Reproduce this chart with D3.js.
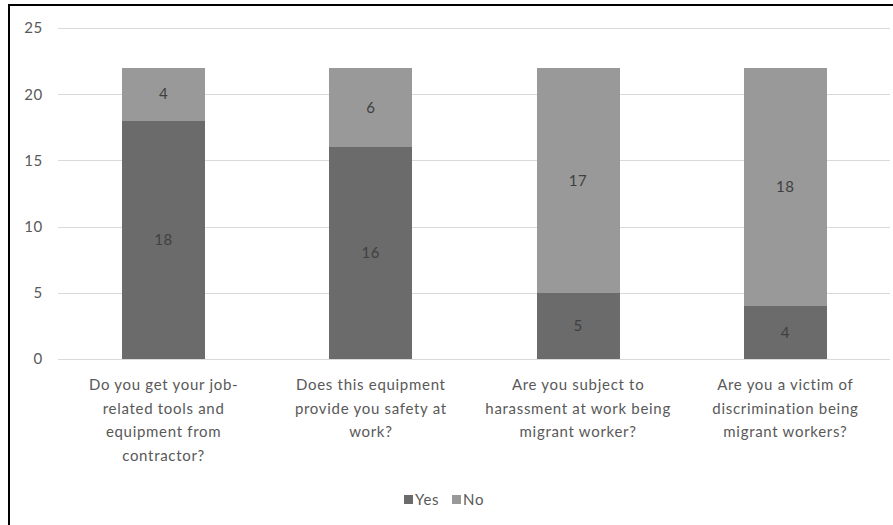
<!DOCTYPE html>
<html>
<head>
<meta charset="utf-8">
<script src="https://cdn.jsdelivr.net/npm/d3@7"></script>
<style>
  html, body { margin: 0; padding: 0; background: #fff; }
  svg { display: block; }
  text { font-family: Lato, "Open Sans", sans-serif; letter-spacing: 0.7px; }
</style>
</head>
<body>
<svg id="chart" width="893" height="525"></svg>
<script>
// Survey questions (wrapped into display lines)
const categories = [
  ["Do you get your job-", "related tools and", "equipment from", "contractor?"],
  ["Does this equipment", "provide you safety at", "work?"],
  ["Are you subject to", "harassment at work being", "migrant worker?"],
  ["Are you a victim of", "discrimination being", "migrant workers?"]
];
const yesValues = [18, 16, 5, 4];
const noValues = [4, 6, 17, 18];
const seriesNames = ["Yes", "No"];
const seriesColors = ["#6b6b6b", "#999999"];
const yTicks = [0, 5, 10, 15, 20, 25];

const svg = d3.select("#chart");
const W = 893, H = 525;

// outer frame (left and top edges visible)
svg.append("line").attr("x1", 9).attr("x2", 9).attr("y1", 4).attr("y2", H)
  .attr("stroke", "#000").attr("stroke-width", 2);
svg.append("line").attr("x1", 8).attr("x2", W).attr("y1", 5).attr("y2", 5)
  .attr("stroke", "#000").attr("stroke-width", 2);

const plot = { left: 60, right: 889, top: 28, bottom: 359 };

const x = d3.scaleBand()
  .domain(d3.range(categories.length))
  .range([plot.left, plot.right])
  .paddingInner(0.6)
  .paddingOuter(0.3);

const y = d3.scaleLinear().domain([0, 25]).range([plot.bottom, plot.top]);
const yr = v => Math.round(y(v));

// gridlines
svg.append("g")
  .selectAll("line")
  .data(yTicks)
  .join("line")
  .attr("x1", 58).attr("x2", 890)
  .attr("y1", d => yr(d) + 0.5).attr("y2", d => yr(d) + 0.5)
  .attr("stroke", "#d9d9d9").attr("stroke-width", 1);

// y axis labels
const yAxis = d3.axisLeft(y).tickValues(yTicks).tickSize(0).tickPadding(0);
const yg = svg.append("g").attr("transform", "translate(43,0)").call(yAxis);
yg.select(".domain").remove();
yg.selectAll("text").attr("fill", "#595959").style("font-size", "15px")
  .style("font-family", "Lato, sans-serif").style("letter-spacing", "0.7px");

// stacked data
const rows = categories.map((c, i) => ({ i, Yes: yesValues[i], No: noValues[i] }));
const stack = d3.stack().keys(seriesNames)(rows);

const layers = svg.append("g")
  .selectAll("g")
  .data(stack)
  .join("g")
  .attr("fill", (d, k) => seriesColors[k]);

layers.selectAll("rect")
  .data(d => d)
  .join("rect")
  .attr("x", d => Math.round(x(d.data.i)))
  .attr("width", Math.round(x.bandwidth()))
  .attr("y", d => yr(d[1]))
  .attr("height", d => yr(d[0]) - yr(d[1]));

// value labels centred in each segment
layers.selectAll("text")
  .data((d, k) => d.map(s => ({ s, key: seriesNames[k] })))
  .join("text")
  .attr("x", d => x(d.s.data.i) + x.bandwidth() / 2)
  .attr("y", d => (y(d.s[0]) + y(d.s[1])) / 2)
  .attr("dy", "0.35em")
  .attr("text-anchor", "middle")
  .attr("fill", "#404040")
  .style("font-size", "15px")
  .text(d => d.s.data[d.key]);

// category labels
const cat = svg.append("g")
  .selectAll("text")
  .data(categories)
  .join("text")
  .attr("text-anchor", "middle")
  .attr("fill", "#595959")
  .style("font-size", "15px")
  .attr("x", (d, i) => x(i) + x.bandwidth() / 2)
  .attr("y", 390);
cat.selectAll("tspan")
  .data(d => d)
  .join("tspan")
  .attr("x", function () { return d3.select(this.parentNode).attr("x"); })
  .attr("dy", (d, j) => j === 0 ? 0 : 23.5)
  .text(d => d);

// legend
const legend = svg.append("g").attr("transform", "translate(404,500)");
const items = [{ name: "Yes", color: seriesColors[0], x: 0 }, { name: "No", color: seriesColors[1], x: 48 }];
const li = legend.selectAll("g").data(items).join("g")
  .attr("transform", d => `translate(${d.x},0)`);
li.append("rect").attr("x", 0).attr("y", -5).attr("width", 9).attr("height", 9)
  .attr("fill", d => d.color);
li.append("text").attr("x", 11).attr("y", 0).attr("dy", "0.35em")
  .attr("fill", "#595959").style("font-size", "15px").text(d => d.name);
</script>
</body>
</html>
